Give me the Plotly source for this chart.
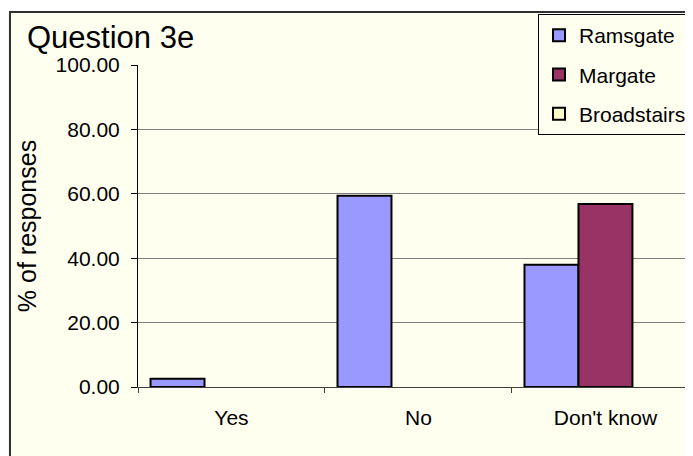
import plotly.graph_objects as go

# Survey answers for question 3e, % of responses per town (None = no bar).
categories = ["Yes", "No", "Don't know"]
ramsgate = [2.6, 59.4, 38.0]
margate = [None, None, 56.8]
broadstairs = [None, None, None]
y_ticks = [0, 20, 40, 60, 80, 100]
y_tick_labels = ["0.00", "20.00", "40.00", "60.00", "80.00", "100.00"]

cream = "#FFFFF0"
font = "Liberation Sans, Arial, sans-serif"

fig = go.Figure()
for name, values, colour in [("Ramsgate", ramsgate, "#9999FF"),
                             ("Margate", margate, "#993366"),
                             ("Broadstairs", broadstairs, "#FFFFCC")]:
    fig.add_trace(go.Bar(x=categories, y=values, name=name, legendgroup=name,
                         marker=dict(color=colour, line=dict(color="black", width=2))))

# the page body adds 8px, so the margins are 8px smaller than the target layout
fig.update_layout(
    width=693, height=456,
    margin=dict(l=130, r=0, t=57, b=77, autoexpand=False),
    paper_bgcolor="white", plot_bgcolor=cream,
    font=dict(family=font, size=21, color="black"),
    barmode="group", bargap=0.134, bargroupgap=0,
    showlegend=True,
    legend=dict(x=0.7105, y=1.1584, xanchor="left", yanchor="top",
                bgcolor=cream, bordercolor="black", borderwidth=1,
                font=dict(size=21), tracegroupgap=9),
)

fig.update_xaxes(range=[-0.5, 2.511], showline=True, linecolor="#404040", linewidth=1,
                 ticks="outside", tickson="boundaries", ticklen=5, tickcolor="#404040",
                 showgrid=False, ticklabelstandoff=12, automargin=False)
fig.update_yaxes(range=[0, 100], tickvals=y_ticks, ticktext=y_tick_labels,
                 showline=True, linecolor="black", linewidth=1,
                 ticks="outside", ticklen=6, tickcolor="black",
                 showgrid=True, gridcolor="#808080", gridwidth=1, zeroline=False,
                 ticklabelstandoff=7, automargin=False,
                 title=dict(text="% of responses", standoff=11))

# Chart frame (clipped on the right and bottom as in the original)
fig.add_shape(type="rect", xref="paper", yref="paper", x0=-0.2274, x1=1.2, y0=-0.4, y1=1.1646,
              line=dict(color="#303030", width=2), fillcolor=cream, layer="below")

fig.add_annotation(text="Question 3e", xref="paper", yref="paper", x=-0.2007, y=1.084,
                   xanchor="left", yanchor="middle", showarrow=False,
                   font=dict(size=31, family=font, color="black"))

fig.write_html("out.html")
